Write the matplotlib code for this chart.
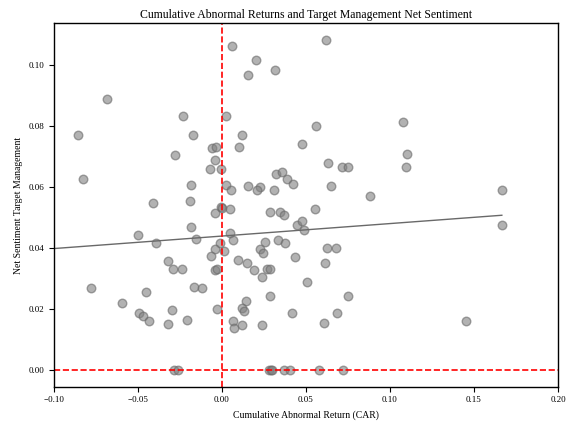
import numpy as np
import matplotlib
matplotlib.use('Agg')
import matplotlib.pyplot as plt

plt.rcParams['font.family'] = ['Liberation Serif', 'DejaVu Serif']

# Cumulative abnormal return (x) and target management net sentiment (y)
car = [-0.0681, -0.0853, -0.0280, -0.0828, -0.0412, 0.0062, 0.0202, 0.0317, 0.0155, -0.0228,
       0.0028, -0.0172, 0.0121, -0.0057, -0.0037, 0.0103, -0.0042, -0.0071, -0.0002, 0.0321,
       0.0357, 0.0387, -0.0186, 0.0024, 0.0052, 0.0155, 0.0226, 0.0210, 0.0313, -0.0190,
       -0.0005, 0.0003, 0.0048, 0.0618, 0.0561, 0.1080, 0.0478, 0.1100, 0.0632, 0.0713,
       0.0751, 0.1094, 0.0422, 0.0648, 0.0879, 0.1666, -0.0501, -0.0390, -0.0321, -0.0291,
       -0.0776, -0.0449, -0.0594, -0.0495, -0.0469, -0.0431, -0.0321, -0.0299, -0.0285, -0.0259,
       -0.0042, 0.0289, 0.0349, 0.0370, -0.0182, -0.0156, 0.0046, 0.0066, -0.0012, -0.0042,
       0.0016, -0.0067, 0.0258, 0.0333, 0.0374, 0.0226, 0.0246, 0.0099, 0.0151, -0.0235,
       -0.0042, -0.0027, 0.0194, 0.0270, 0.0285, 0.0240, -0.0166, -0.0117, 0.0289, 0.0143,
       0.0121, 0.0135, -0.0027, -0.0206, 0.0064, 0.0071, 0.0119, 0.0240, 0.0416, 0.0283,
       0.0292, 0.0298, 0.0368, 0.0404, 0.0553, 0.0448, 0.0478, 0.0487, 0.0624, 0.0680,
       0.0438, 0.0616, 0.0507, 0.0751, 0.0687, 0.0608, 0.0576, 0.0723, 0.1666, 0.1454]
sentiment = [0.0890, 0.0770, 0.0705, 0.0626, 0.0549, 0.1065, 0.1018, 0.0985, 0.0969, 0.0834,
             0.0834, 0.0770, 0.0770, 0.0728, 0.0732, 0.0732, 0.0691, 0.0659, 0.0659, 0.0645,
             0.0650, 0.0627, 0.0606, 0.0606, 0.0590, 0.0603, 0.0601, 0.0590, 0.0590, 0.0555,
             0.0536, 0.0532, 0.0529, 0.1084, 0.0801, 0.0813, 0.0742, 0.0709, 0.0679, 0.0667,
             0.0667, 0.0667, 0.0612, 0.0603, 0.0570, 0.0590, 0.0442, 0.0418, 0.0359, 0.0331,
             0.0271, 0.0258, 0.0222, 0.0188, 0.0179, 0.0161, 0.0151, 0.0196, 0.0, 0.0,
             0.0516, 0.0518, 0.0518, 0.0509, 0.0469, 0.0429, 0.0449, 0.0426, 0.0418, 0.0399,
             0.0390, 0.0374, 0.0422, 0.0426, 0.0416, 0.0396, 0.0385, 0.0362, 0.0353, 0.0332,
             0.0330, 0.0332, 0.0330, 0.0332, 0.0332, 0.0306, 0.0273, 0.0270, 0.0243, 0.0227,
             0.0203, 0.0193, 0.0201, 0.0164, 0.0162, 0.0140, 0.0147, 0.0149, 0.0188, 0.0,
             0.0, 0.0, 0.0, 0.0, 0.0528, 0.0477, 0.0488, 0.0461, 0.0400, 0.0400,
             0.0370, 0.0353, 0.0290, 0.0243, 0.0186, 0.0155, 0.0, 0.0, 0.0475, 0.0160]

# fitted line
fit_slope = 0.041
fit_intercept = 0.0440

fig = plt.figure(figsize=(5.86, 4.23), dpi=100)
ax = fig.add_axes([0.0916, 0.0858, 0.8606, 0.8592])

ax.scatter(car, sentiment, s=38, color='gray', alpha=0.6, edgecolors='dimgray', linewidths=1.0)

ax.set_xlim(-0.10, 0.20)
x_line = np.array([ax.get_xlim()[0], max(car)])
ax.plot(x_line, fit_intercept + fit_slope * x_line, color='dimgray', linewidth=1.0)

ax.axvline(0, color='red', linestyle='--', linewidth=1.2)
ax.axhline(0, color='red', linestyle='--', linewidth=1.2)

ax.set_title('Cumulative Abnormal Returns and Target Management Net Sentiment', fontsize=8.5, pad=4)
ax.set_xlabel('Cumulative Abnormal Return (CAR)', fontsize=7)
ax.set_ylabel('Net Sentiment Target Management', fontsize=7)
ax.tick_params(labelsize=6.5)
for sp in ax.spines.values():
    sp.set_linewidth(1.0)

fig.savefig('out.png', dpi=100)
